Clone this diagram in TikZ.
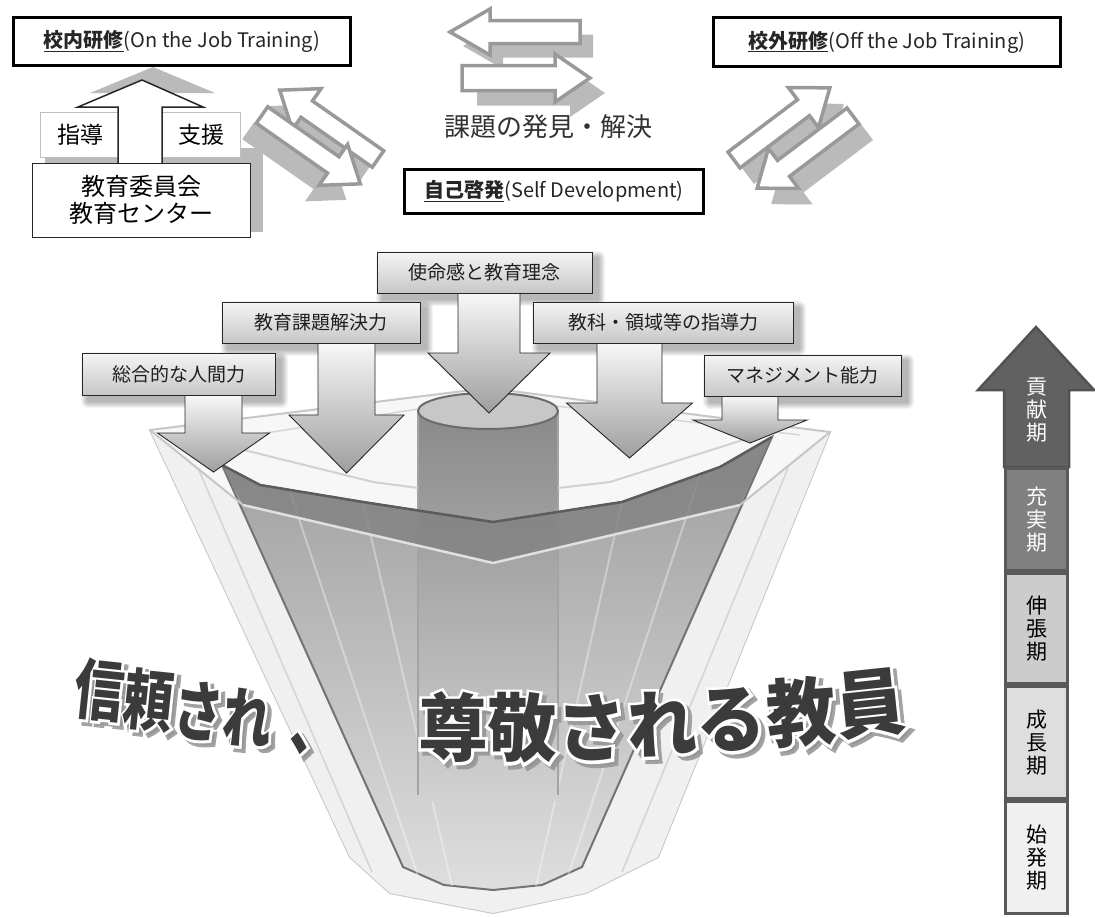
\documentclass[tikz,border=0pt]{standalone}
\usepackage{fontspec}
\setmainfont{Noto Sans CJK JP}
\newfontfamily\halofont[FakeBold=8]{Noto Sans CJK JP}
% hollow arrow: style, tail x, tail y, angle, length, half shaft, half head, head length
\newcommand\hollow[8]{\path[#1,shift={(#2,#3)},rotate=#4] (0,-#6) -- ({#5-#8},-#6) -- ({#5-#8},-#7) -- (#5,0) -- ({#5-#8},#7) -- ({#5-#8},#6) -- (0,#6) -- cycle;}
% down arrow: cx, ytail, ybase, ytip, half shaft, half head
\newcommand\darrow[6]{\path[downarr] ({#1-#5},#2) -- ({#1-#5},#3) -- ({#1-#6},#3) -- (#1,#4) -- ({#1+#6},#3) -- ({#1+#5},#3) -- ({#1+#5},#2) -- cycle;}
% soft shadow
\newcommand\softsh[4]{\foreach \k in {1,...,7}{\fill[black,opacity=0.045,rounded corners=\k pt] ({#1+6-\k},{#2+6-\k}) rectangle ({#3+6+\k},{#4+6+\k});}}
% big character: name, x, y, rot, xscale, size, char
\newcommand\bigch[7]{%
 \begin{scope}[shift={(#2,#3)}]
  \node[halo=#6,text=black!42,opacity=0.85,xshift=4pt,yshift=-4pt,rotate=#4,xscale=#5] (#1s) at (0,0) {#7};
  \node[halo=#6,text=white,rotate=#4,xscale=#5] (#1h) at (0,0) {#7};
  \node[big=#6,text=black!77,rotate=#4,xscale=#5] (#1) at (0,0) {#7};
 \end{scope}}
\begin{document}
\begin{tikzpicture}[x=1pt,y=-1pt,
  hol/.style={draw=black!40,line width=3.5pt,fill=white,line join=miter},
  holsh/.style={fill=black!27},
  downarr/.style={draw=black!85,line width=0.9pt,top color=black!3,bottom color=black!38},
  lbl/.style={draw=black!85,line width=0.9pt,top color=black!4,bottom color=black!22,inner sep=0pt,text=black!88,font=\fontsize{19}{22}\selectfont},
  headbox/.style={draw=black,line width=3.5pt,fill=white,inner sep=0pt,font=\fontsize{20}{23}\selectfont,text=black!85},
  smallbox/.style={draw=black!25,line width=1pt,fill=white,inner sep=0pt,minimum height=45pt,font=\fontsize{23}{26}\selectfont},
  period/.style={draw=black!65,line width=3pt,minimum width=62pt,inner sep=0pt,align=center,font=\fontsize{21}{23}\selectfont},
  big/.style={font=\bfseries\fontsize{#1}{#1}\selectfont,inner sep=0pt},
  halo/.style={font=\halofont\bfseries\fontsize{#1}{#1}\selectfont,inner sep=0pt}]
\fill[white] (0,0) rectangle (1095,918);
\useasboundingbox (0,0) rectangle (1095,918);

% ---------------- funnel ----------------
\path[fill=black!3,draw=black!22,line width=2pt] (150,430) -- (488,388) -- (830,432) -- (658,857) -- (586,893) -- (493,913) -- (390,893) -- (350,857) -- cycle;
\draw[black!16,line width=1.5pt] (190,445) -- (488,398) -- (800,435);
\path[fill=black!6] (150,430) -- (243,505) -- (493,563) -- (740,505) -- (830,432) -- (658,857) -- (586,893) -- (493,913) -- (390,893) -- (350,857) -- cycle;
\draw[black!17,line width=1.5pt] (198,468) -- (372,872) (788,468) -- (622,872);
\path[draw=black!55,line width=2pt,top color=black!38,bottom color=black!13] (222,465) -- (260,485) -- (363,502) -- (493,522) -- (622,502) -- (720,467) -- (772,437) -- (582,867) -- (542,885) -- (493,890) -- (444,885) -- (403,867) -- cycle;
\draw[white,opacity=0.35,line width=2pt] (290,492) -- (418,876) (363,502) -- (452,886) (622,502) -- (536,886) (700,475) -- (568,876);
% cylinder
\path[top color=black!46,bottom color=black!18] (418,411) rectangle (558,800);
\draw[black!36,line width=1.5pt] (418,411) -- (418,795) (558,411) -- (558,795);
\path[fill=black!22,draw=black!58,line width=2pt] (488,411) ellipse [x radius=70, y radius=18];
% light rim above band
\draw[black!18,line width=2pt,line join=round] (232,447) -- (373,482) -- (418,488) (558,488) -- (610,482) -- (765,433);
% band
\path[fill=black!50,opacity=0.78] (222,465) -- (260,485) -- (363,502) -- (493,522) -- (622,502) -- (720,467) -- (772,437) -- (740,505) -- (493,563) -- (243,505) -- cycle;
\draw[black!64,line width=2.5pt,line join=round] (222,465) -- (260,485) -- (363,502) -- (493,522) -- (622,502) -- (720,467) -- (772,437);
\draw[black!12,line width=2.5pt,line join=round] (243,505) -- (493,563) -- (740,505);
\draw[black!22,line width=2pt] (150,430) -- (243,505) (740,505) -- (830,432);

% ---------------- label boxes and down arrows ----------------
\softsh{82}{353}{275}{395}
\softsh{222}{302}{420}{343}
\softsh{377}{252}{592}{293}
\softsh{533}{302}{793}{343}
\softsh{704}{355}{901}{396}
\darrow{213.5}{395}{433}{472}{28.5}{56}
\darrow{346.5}{343}{415}{473}{28.5}{57.5}
\darrow{489}{293}{353}{413}{31}{61}
\darrow{629.5}{343}{403}{458}{32.5}{63}
\darrow{750}{396}{420}{443}{28}{57}
\node[lbl,minimum width=193pt,minimum height=42pt] (b1) at (178.5,374) {総合的な人間力};
\node[lbl,minimum width=198pt,minimum height=41pt] (b2) at (321,322.5) {教育課題解決力};
\node[lbl,minimum width=215pt,minimum height=41pt] (b3) at (484.5,272.5) {使命感と教育理念};
\node[lbl,minimum width=260pt,minimum height=41pt] (b4) at (663,322.5) {教科・領域等の指導力};
\node[lbl,minimum width=197pt,minimum height=41pt] (b5) at (802.5,375.5) {マネジメント能力};

% ---------------- top-left group ----------------
\fill[black!27] (45,148) rectangle (263,232);
\fill[black!27] (90,93) -- (153,67) -- (215,93) -- cycle;
\node[smallbox,minimum width=80pt] (shido) at (80,134.5) {指導};
\node[smallbox,minimum width=78pt] (shien) at (201,134.5) {支援};
\path[draw=black!85,line width=1.5pt,fill=white] (118,163) -- (118,107) -- (78,107) -- (142,80) -- (203,107) -- (162,107) -- (162,163);
\node[draw=black!85,line width=1pt,fill=white,minimum width=218pt,minimum height=74pt,inner sep=0pt,align=center,font=\fontsize{24}{27}\selectfont] (iinkai) at (141,200) {教育委員会\\教育センター};
\node[headbox,minimum width=337pt,minimum height=48pt] (ojt) at (182,41.5) {\underline{\textbf{校内研修}}(On the Job Training)};

% ---------------- top-middle ----------------
\hollow{holsh}{593}{46}{180}{130}{11.5}{23}{40}
\hollow{hol}{580}{32}{180}{130}{11.5}{23}{40}
\hollow{holsh}{477}{93}{0}{128}{12.5}{24}{35}
\hollow{hol}{462}{78}{0}{128}{12.5}{24}{35}
\node[font=\fontsize{26}{30}\selectfont,text=black!80] (kadai) at (548,127) {課題の発見・解決};
\node[headbox,minimum width=299pt,minimum height=44pt] (selfdev) at (554,191.5) {\underline{\textbf{自己啓発}}(Self Development)};

% left diagonal pair
\hollow{holsh}{364}{175}{145}{120}{10}{25}{33}
\hollow{holsh}{248}{131}{-35}{120}{10}{25}{33}
\hollow{hol}{378}{159}{145}{120}{10}{25}{33}
\hollow{hol}{262}{115}{-35}{120}{10}{25}{33}

% ---------------- top-right ----------------
\node[headbox,minimum width=347pt,minimum height=49pt] (offjt) at (887,42) {\underline{\textbf{校外研修}}(Off the Job Training)};
\hollow{holsh}{748}{176}{37}{120}{10}{25}{33}
\hollow{holsh}{867}{132}{217}{120}{10}{25}{33}
\hollow{hol}{734}{160}{37}{120}{10}{25}{33}
\hollow{hol}{853}{116}{217}{120}{10}{25}{33}

% ---------------- right column ----------------
\path[fill=black!62,draw=black!68,line width=2.5pt,line join=miter] (1036,327) -- (1094,390) -- (1069,390) -- (1069,467) -- (1004,467) -- (1004,390) -- (978,390) -- cycle;
\node[align=center,font=\fontsize{21}{23}\selectfont,text=white,inner sep=0pt] (p1) at (1036.5,410) {貢\\献\\期};
\node[period,fill=black!50,text=white,minimum height=102pt] (p2) at (1036.5,519.5) {充\\実\\期};
\node[period,fill=black!20,minimum height=110pt] (p3) at (1036.5,628.5) {伸\\張\\期};
\node[period,fill=black!13,minimum height=112pt] (p4) at (1036.5,742.5) {成\\長\\期};
\node[period,fill=black!6,minimum height=112pt] (p5) at (1036.5,857.5) {始\\発\\期};

% ---------------- big text ----------------
\bigch{c1}{100}{690}{-6}{0.75}{66}{信}
\bigch{c2}{149}{700}{-6}{0.75}{66}{頼}
\bigch{c3}{199}{711}{-6}{0.75}{66}{さ}
\bigch{c4}{248}{718}{-6}{0.75}{66}{れ}
\bigch{c5}{314}{745}{-6}{0.75}{66}{、}
\bigch{c6}{453}{727}{0}{0.94}{74}{尊}
\bigch{c7}{522}{728}{0}{0.94}{74}{敬}
\bigch{c8}{592}{728}{1}{0.94}{74}{さ}
\bigch{c9}{662}{724}{2}{0.94}{74}{れ}
\bigch{c10}{731}{720}{3}{0.94}{74}{る}
\bigch{c11}{801}{712}{4}{0.94}{74}{教}
\bigch{c12}{870}{704}{6}{0.94}{74}{員}
\end{tikzpicture}
\end{document}
